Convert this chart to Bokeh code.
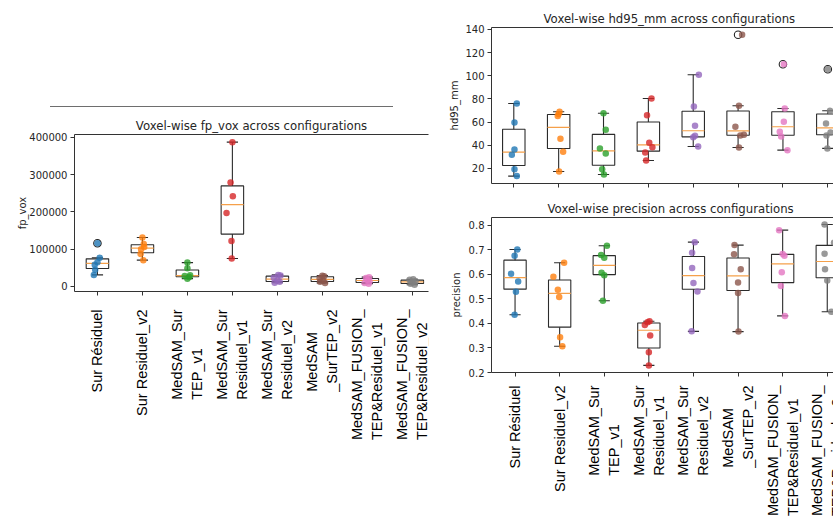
import numpy as np
from bokeh.plotting import figure
from bokeh.models import (Range1d, FixedTicker, NumeralTickFormatter, LinearAxis, Div,
                          ColumnDataSource)
from bokeh.layouts import row, column
from bokeh.embed import file_html
from bokeh.resources import INLINE
from bokeh.core.properties import value

# ---------------- data ----------------
categories = ["Sur Résiduel", "Sur Residuel_v2", "MedSAM_Sur\nTEP_v1", "MedSAM_Sur\nResiduel_v1",
              "MedSAM_Sur\nResiduel_v2", "MedSAM\n_SurTEP_v2", "MedSAM_FUSION_\nTEP&Residuel_v1",
              "MedSAM_FUSION_\nTEP&Residuel_v2"]
colors = ["#1f77b4", "#ff7f0e", "#2ca02c", "#d62728", "#9467bd", "#8c564b", "#e377c2", "#7f7f7f"]

fp_vox = [
    [31000, 45000, 58400, 65000, 77000, 116000],
    [70600, 87300, 100000, 105600, 114100, 131500],
    [21000, 25300, 28000, 30000, 48700, 64000],
    [75000, 121600, 196800, 241600, 279000, 387000],
    [10000, 12500, 16000, 23400, 29100, 31000],
    [9500, 12700, 15500, 22100, 27300, 29000],
    [7500, 9600, 14000, 18000, 22700, 25000],
    [4500, 7000, 11000, 14000, 18000, 19500],
]
fp_jitter = [
    [-0.08, -0.05, -0.06, 0.00, 0.05, 0.00],
    [0.02, -0.04, -0.03, 0.04, 0.03, 0.00],
    [0.00, 0.04, -0.06, 0.06, 0.00, 0.00],
    [-0.015, -0.02, -0.13, 0.01, -0.04, 0.00],
    [-0.06, 0.05, 0.00, -0.08, 0.07, 0.02],
    [0.06, -0.05, 0.02, -0.06, 0.04, 0.00],
    [0.03, -0.06, 0.05, 0.00, -0.03, 0.04],
    [0.05, -0.04, 0.00, 0.07, -0.06, 0.02],
]

hd95_mm = [
    [13.4, 19.4, 31.8, 36.4, 59.7, 76.1],
    [17.4, 34.4, 45.6, 65.2, 67.0, 68.9],
    [14.8, 19.4, 33.0, 37.3, 53.4, 67.7],
    [26.9, 33.8, 38.4, 42.2, 66.0, 80.4],
    [39.0, 47.0, 48.2, 56.9, 73.5, 100.9],
    [38.1, 48.5, 49.0, 56.0, 74.1, 135.4],
    [35.8, 47.6, 51.7, 60.3, 71.8, 110.0],
    [37.3, 48.5, 51.1, 58.8, 69.8, 105.7],
]
hd_jitter = [
    [0.067, 0.015, -0.044, 0.015, 0.015, 0.067],
    [0.01, 0.10, 0.04, -0.02, 0.00, 0.02],
    [0.01, -0.03, 0.05, -0.08, 0.05, 0.00],
    [-0.05, -0.07, 0.09, 0.02, -0.03, 0.07],
    [0.11, 0.00, 0.04, 0.04, 0.015, 0.125],
    [0.02, 0.05, 0.13, -0.06, 0.02, 0.09],
    [0.10, -0.04, -0.07, 0.02, 0.04, 0.02],
    [-0.01, -0.03, 0.06, -0.04, 0.05, 0.00],
]

precision = [
    [0.436, 0.530, 0.571, 0.603, 0.677, 0.702],
    [0.307, 0.344, 0.508, 0.538, 0.591, 0.648],
    [0.493, 0.597, 0.607, 0.668, 0.680, 0.717],
    [0.229, 0.283, 0.351, 0.394, 0.405, 0.409],
    [0.368, 0.531, 0.565, 0.626, 0.689, 0.732],
    [0.367, 0.524, 0.567, 0.621, 0.683, 0.720],
    [0.431, 0.553, 0.609, 0.677, 0.684, 0.781],
    [0.448, 0.575, 0.621, 0.685, 0.730, 0.804],
]
pr_jitter = [
    [-0.01, 0.02, 0.07, -0.09, -0.01, 0.05],
    [0.06, 0.01, -0.01, -0.04, -0.14, 0.10],
    [-0.03, 0.00, -0.06, 0.00, -0.07, 0.06],
    [0.00, 0.00, 0.03, -0.09, -0.03, 0.015],
    [-0.04, 0.09, 0.00, -0.03, -0.03, 0.03],
    [0.01, 0.00, 0.00, 0.06, -0.09, -0.08],
    [0.05, -0.04, -0.02, 0.04, 0.00, -0.08],
    [0.09, 0.00, -0.05, -0.06, 0.15, -0.06],
]

fp_ticks = [0, 100000, 200000, 300000, 400000]
hd_ticks = [20, 40, 60, 80, 100, 120, 140]
pr_ticks = [0.2, 0.3, 0.4, 0.5, 0.6, 0.7, 0.8]

TXT = "#262626"
AX = "#333333"
POS = list(range(1, len(categories) + 1))


def base_fig(title, w, h, xr, yr, ylabel, yticks, mbl, mbt, mbb, mbr,
             title_align="center", title_offset=0, label_standoff=4):
    p = figure(width=w, height=h, x_range=xr, y_range=Range1d(*yr),
               output_backend="svg", toolbar_location=None, title=title,
               min_border_left=mbl, min_border_top=mbt, min_border_bottom=mbb,
               min_border_right=mbr)
    p.outline_line_color = None
    p.grid.visible = False
    p.background_fill_color = "white"
    p.border_fill_color = "white"
    p.title.text_font = "DejaVu Sans"
    p.title.text_font_size = "11.7px"
    p.title.text_font_style = "normal"
    p.title.text_color = TXT
    p.title.align = title_align
    p.title.standoff = 4
    p.title.offset = title_offset

    ya = p.yaxis[0]
    ya.ticker = FixedTicker(ticks=yticks)
    ya.axis_label = ylabel
    ya.axis_label_text_font = "DejaVu Sans"
    ya.axis_label_text_font_size = "10px"
    ya.axis_label_text_font_style = "normal"
    ya.axis_label_text_color = TXT
    ya.axis_label_standoff = label_standoff
    ya.major_label_text_font = "DejaVu Sans"
    ya.major_label_text_font_size = "10px"
    ya.major_label_text_color = TXT
    ya.major_label_standoff = 3
    ya.major_tick_out = 4
    ya.major_tick_in = 0
    ya.minor_tick_line_color = None
    ya.axis_line_color = AX
    ya.major_tick_line_color = AX

    xa = p.xaxis[0]
    xa.ticker = FixedTicker(ticks=POS)
    xa.major_label_overrides = {t: "" for t in POS}
    xa.major_label_text_font_size = "1px"
    xa.major_label_text_alpha = 0
    xa.major_label_standoff = 0
    xa.major_tick_out = 4
    xa.major_tick_in = 0
    xa.minor_tick_line_color = None
    xa.axis_line_color = AX
    xa.major_tick_line_color = AX

    top = LinearAxis(ticker=FixedTicker(ticks=[]), major_label_text_font_size="1px",
                     major_label_text_alpha=0,
                     major_tick_line_color=None, minor_tick_line_color=None,
                     axis_line_color=AX, major_label_standoff=0, major_tick_out=0)
    p.add_layout(top, "above")
    return p


def label_strip(xr, w, h, mbl, mbr, gap):
    s = figure(width=w, height=h, x_range=xr, y_range=Range1d(0, 1),
               output_backend="svg", toolbar_location=None,
               x_axis_location=None, y_axis_location=None,
               min_border_left=mbl, min_border_right=mbr, min_border_top=0,
               min_border_bottom=0)
    s.outline_line_color = None
    s.grid.visible = False
    s.border_fill_color = "white"
    src = ColumnDataSource(dict(x=POS, y=[s.y_range.end] * len(POS), t=categories))
    s.text(x="x", y="y", text="t", source=src, angle=np.pi / 2,
           anchor=value("center_right"), text_align="left", y_offset=gap,
           text_font=value("Liberation Sans"), text_font_size=value("14.5px"),
           text_color="black", text_line_height=1.25)
    return s


def draw_boxes(p, data, jitter):
    xs = np.arange(1, len(data) + 1, dtype=float)
    q1s, meds, q3s, los, his = [], [], [], [], []
    fx, fy = [], []
    px, py, pc = [], [], []
    for i, vals in enumerate(data):
        v = np.array(vals, dtype=float)
        q1, med, q3 = np.percentile(v, [25, 50, 75])
        iqr = q3 - q1
        lo_f, hi_f = q1 - 1.5 * iqr, q3 + 1.5 * iqr
        inside = v[(v >= lo_f) & (v <= hi_f)]
        q1s.append(q1); meds.append(med); q3s.append(q3)
        los.append(inside.min()); his.append(inside.max())
        for val in v[(v < lo_f) | (v > hi_f)]:
            fx.append(xs[i]); fy.append(val)
        for val, j in zip(v, jitter[i]):
            px.append(xs[i] + j); py.append(val); pc.append(colors[i])
    src = ColumnDataSource(dict(x=xs, q1=q1s, med=meds, q3=q3s, lo=los, hi=his,
                                l=xs - 0.25, r=xs + 0.25, cl=xs - 0.125, cr=xs + 0.125))
    lc = "#2b2b2b"
    p.segment(x0="x", y0="lo", x1="x", y1="q1", source=src, line_color=lc, line_width=1.1)
    p.segment(x0="x", y0="q3", x1="x", y1="hi", source=src, line_color=lc, line_width=1.1)
    p.segment(x0="cl", y0="lo", x1="cr", y1="lo", source=src, line_color=lc, line_width=1.1)
    p.segment(x0="cl", y0="hi", x1="cr", y1="hi", source=src, line_color=lc, line_width=1.1)
    p.quad(left="l", right="r", bottom="q1", top="q3", source=src, fill_color=None,
           line_color=lc, line_width=1.1)
    p.segment(x0="l", y0="med", x1="r", y1="med", source=src, line_color="#f5a04a",
              line_width=1.2)
    if fx:
        p.scatter(fx, fy, size=7.5, marker="circle", fill_color=None, line_color="#222222",
                  line_width=1.1)
    p.scatter(px, py, size=6.5, marker="circle", fill_color=pc, line_color=None,
              fill_alpha=0.8)


# ---------------- left chart ----------------
deco = Div(text='<div style="margin-left:50px;width:343px;height:107px;'
                'border-bottom:1px solid #6e6e6e;"></div>', width=440, height=108, margin=0)

fp_x = Range1d(0.49, 8.36)
p_fp = base_fig("Voxel-wise fp_vox across configurations", 440, 189, fp_x,
                (-13500, 407500), "fp_vox", fp_ticks, 74, 26, 6, 12,
                title_align="center", title_offset=0, label_standoff=-2)
p_fp.yaxis[0].formatter = NumeralTickFormatter(format="0")
draw_boxes(p_fp, fp_vox, fp_jitter)
s_fp = label_strip(fp_x, 440, 219, 74, 12, 12)

# ---------------- right top ----------------
hd_x = Range1d(0.503, 8.127)
p_hd = base_fig("Voxel-wise hd95_mm across configurations", 393, 195, hd_x,
                (7.0, 141.7), "hd95_mm", hd_ticks, 51, 27, 12, 0,
                title_align="left", title_offset=52, label_standoff=2)
draw_boxes(p_hd, hd95_mm, hd_jitter)

# ---------------- right middle ----------------
pr_x = Range1d(0.472, 8.14)
p_pr = base_fig("Voxel-wise precision across configurations", 393, 183, pr_x,
                (0.2, 0.8326), "precision", pr_ticks, 49, 22, 6, 0,
                title_align="left", title_offset=56)
draw_boxes(p_pr, precision, pr_jitter)
s_pr = label_strip(pr_x, 393, 138, 49, 0, 7)

layout = row(column(deco, p_fp, s_fp), column(p_hd, p_pr, s_pr))

open("out.html", "w").write(file_html(layout, INLINE))
